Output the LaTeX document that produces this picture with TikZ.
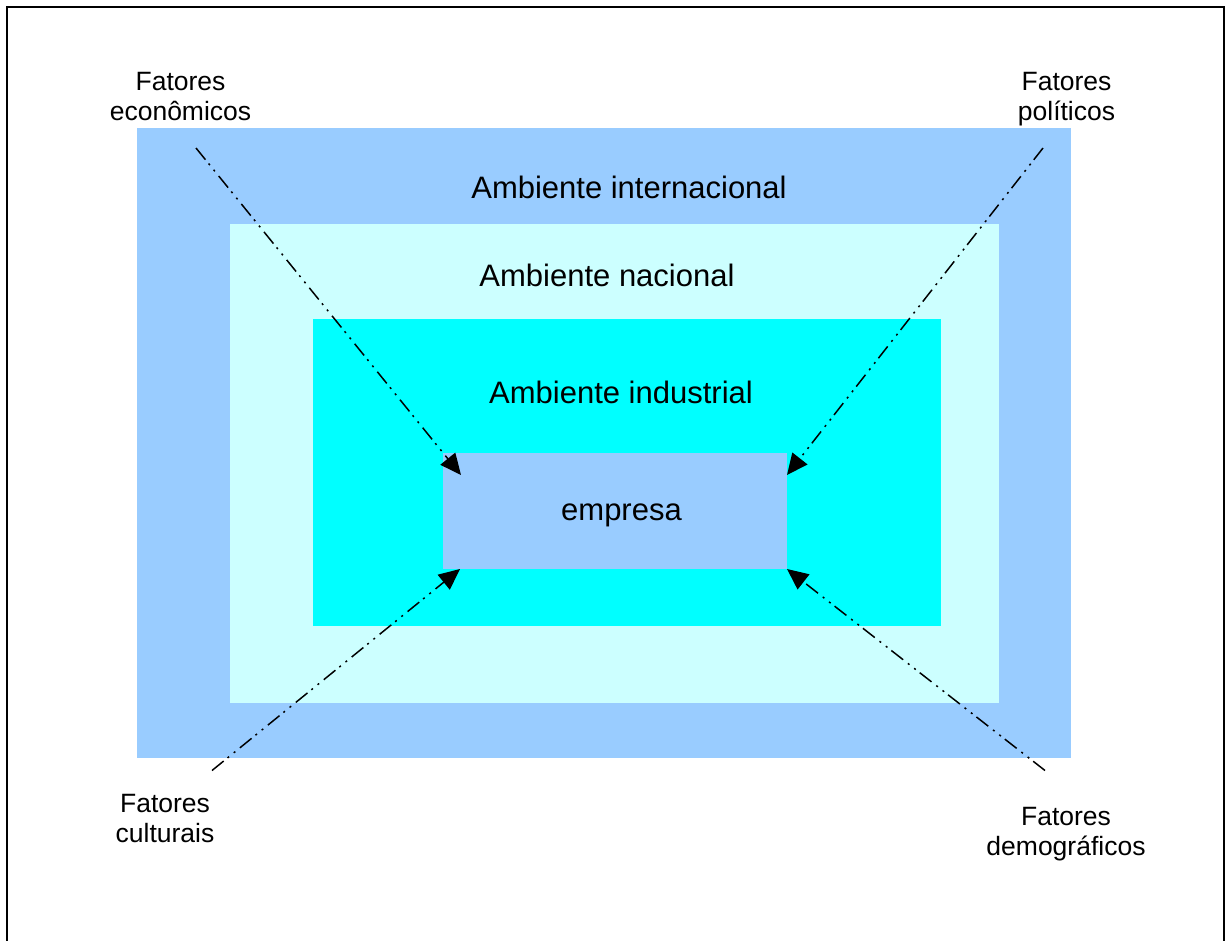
\documentclass[tikz,border=0pt]{standalone}
\usepackage{fontspec}
\setmainfont{Liberation Sans}
\usetikzlibrary{arrows.meta,calc}

\definecolor{interblue}{HTML}{99CCFF}
\definecolor{nacpale}{HTML}{CCFFFF}
\definecolor{indcyan}{HTML}{00FFFF}

\tikzset{
  layer/.style={draw=none, inner sep=0pt, outer sep=0pt},
  ambtext/.style={font=\fontsize{31}{36}\selectfont, inner sep=0pt, anchor=base},
  factor/.style={font=\fontsize{26.5}{30}\selectfont, align=center, inner sep=0pt, anchor=base},
  influence/.style={line width=1.5pt, dash pattern=on 15pt off 5pt on 2pt off 6pt on 2pt off 6pt,
    -{Triangle[length=21pt,width=19pt]}},
  frameline/.style={line width=2.2pt}
}

\begin{document}
\begin{tikzpicture}[x=1pt,y=-1pt]
  \useasboundingbox (0,0) rectangle (1226,940);
  \begin{scope}
    \clip (0,0) rectangle (1226,940);
    \draw[frameline] (7,960) -- (7,7) -- (1224,7) -- (1224,960);
  \end{scope}

  % nested environments
  \node[layer, fill=interblue, minimum width=934pt, minimum height=630pt] (intl) at (604,443) {};
  \node[layer, fill=nacpale, minimum width=769pt, minimum height=479pt] (nac) at (614.5,463.5) {};
  \node[layer, fill=indcyan, minimum width=628pt, minimum height=307pt] (ind) at (627,472.5) {};
  \node[layer, fill=interblue, minimum width=344pt, minimum height=116pt] (emp) at (615,511) {};

  % titles of the environments
  \node[ambtext] (tIntl) at (629,198.5) {Ambiente internacional};
  \node[ambtext] (tNac) at (607,286) {Ambiente nacional};
  \node[ambtext] (tInd) at (621,403.5) {Ambiente industrial};
  \node[ambtext] (tEmp) at (621.5,520.7) {empresa};

  % external factors (base anchor sits on the second line)
  \node[factor] (fEco) at (180.5,120) {Fatores\\econômicos};
  \node[factor] (fPol) at (1066.5,120) {Fatores\\políticos};
  \node[factor] (fCul) at (165,842.7) {Fatores\\culturais};
  \node[factor] (fDem) at (1066,855.5) {Fatores\\demográficos};

  % arrow end points
  \coordinate (sEco) at (196,148);
  \coordinate (sPol) at (1043,148);
  \coordinate (sCul) at (212,770.5);
  \coordinate (sDem) at (1045,770.5);
  \coordinate (tipEco) at ($(emp.north west)+(18,22)$);
  \coordinate (tipPol) at ($(emp.north east)+(0,22)$);
  \coordinate (tipCul) at ($(emp.south west)+(17,0)$);
  \coordinate (tipDem) at ($(emp.south east)+(0,0)$);

  \draw[influence] (sEco) -- (tipEco);
  \draw[influence] (sPol) -- (tipPol);
  \draw[influence] (sCul) -- (tipCul);
  \draw[influence] (sDem) -- (tipDem);
\end{tikzpicture}
\end{document}
